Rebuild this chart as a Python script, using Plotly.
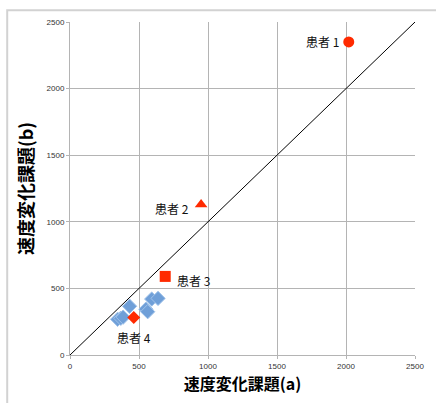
import plotly.graph_objects as go

# data
patient_labels = ["患者 1", "患者 2", "患者 3", "患者 4"]
patient_x = [2020, 950, 690, 462]
patient_y = [2350, 1130, 590, 282]
patient_symbols = ["circle", "triangle-up", "square", "diamond"]

control_x = [345, 368, 385, 432, 550, 563, 592, 638]
control_y = [268, 276, 284, 366, 344, 325, 420, 425]

diag = [0, 2500]
ticks = [0, 500, 1000, 1500, 2000, 2500]

red = "#ff2a00"
blue = "#6f9fd8"
font_jp = "Noto Sans CJK JP"

fig = go.Figure()

fig.add_trace(go.Scatter(x=diag, y=diag, mode="lines",
                         line=dict(color="black", width=1), hoverinfo="skip"))

fig.add_trace(go.Scatter(x=control_x, y=control_y, mode="markers",
                         marker=dict(symbol="diamond", size=11, color=blue,
                                     line=dict(color="#9fc2ea", width=1))))

for i, lab in enumerate(patient_labels):
    size = 11 if patient_symbols[i] != "diamond" else 10
    fig.add_trace(go.Scatter(x=[patient_x[i]], y=[patient_y[i]], mode="markers",
                             marker=dict(symbol=patient_symbols[i], size=size, color=red,
                                         line=dict(width=0))))

shifts = [(-8, 0, "right", "middle"), (-10, -4, "right", "middle"),
          (10, -4, "left", "middle"), (0, -20, "center", "middle")]
for i, lab in enumerate(patient_labels):
    xs, ys, xa, ya = shifts[i]
    fig.add_annotation(x=patient_x[i], y=patient_y[i], text=lab, showarrow=False,
                       xshift=xs, yshift=ys, xanchor=xa, yanchor=ya,
                       font=dict(family=font_jp, size=12, color="#111"))

axis_common = dict(range=[0, 2500], tickvals=ticks, showgrid=True,
                   gridcolor="#b4b4b4", gridwidth=1, zeroline=False,
                   showline=True, linecolor="#b4b4b4", linewidth=1,
                   ticks="outside", ticklen=3, tickcolor="#b4b4b4",
                   tickfont=dict(family="Liberation Sans", size=8, color="#333"),
                   mirror=False, fixedrange=True)

fig.update_xaxes(**axis_common,
                 title=dict(text="<b>速度変化課題(a)</b>", standoff=9,
                            font=dict(family=font_jp, size=16, color="black")))
fig.update_yaxes(**axis_common,
                 title=dict(text="<b>速度変化課題(b)</b>", standoff=8,
                            font=dict(family=font_jp, size=18, color="black")))

fig.add_shape(type="rect", xref="paper", yref="paper",
              x0=-0.182, y0=-0.3, x1=1.2, y1=1.035,
              line=dict(color="#d2d2d2", width=2), fillcolor="rgba(0,0,0,0)", layer="below")

fig.update_layout(width=436, height=403, showlegend=False,
                  margin=dict(l=70, r=18, t=22, b=48),
                  plot_bgcolor="white", paper_bgcolor="white")

fig.write_html("out.html")
